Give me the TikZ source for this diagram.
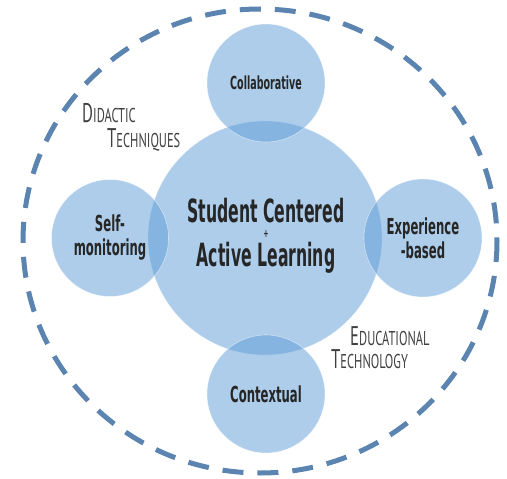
\documentclass[tikz,border=0pt]{standalone}
\usepackage{fontspec}
\newfontfamily\agency[FakeStretch=0.53]{DejaVu Sans}
\newfontfamily\agencyc[FakeStretch=0.49]{DejaVu Sans}
\newfontfamily\thinfont[FakeStretch=0.62]{PT Sans}
\definecolor{dashblue}{HTML}{5B84B1}
\definecolor{bubblue}{HTML}{5B9BD5}
\definecolor{txtdark}{HTML}{262626}
\definecolor{lblgrey}{HTML}{404040}
\tikzset{
  bub/.style={circle, fill=bubblue, fill opacity=0.5, draw=white, draw opacity=0.5,
    line width=0.6pt, text opacity=1, text=txtdark, align=center, inner sep=0pt},
  sattext/.style={font=\agency\bfseries\fontsize{22}{24}\selectfont},
  ctext/.style={anchor=base, inner sep=0pt, text=txtdark,
    font=\agencyc\bfseries\fontsize{32}{34}\selectfont},
  plustext/.style={inner sep=0pt, text=txtdark,
    font=\agency\bfseries\fontsize{11}{11}\selectfont},
  lbl/.style={anchor=base west, text=lblgrey, inner sep=0pt, font=\thinfont},
}
\newcommand{\bigc}[1]{{\fontsize{27}{27}\selectfont #1}}
\newcommand{\smc}[1]{{\fontsize{20}{20}\selectfont #1}}
\begin{document}
\begin{tikzpicture}[x=1pt,y=-1pt]
\useasboundingbox (0,0) rectangle (507,479);
\draw[dashblue, line width=5pt, dash pattern=on 21pt off 14pt]
  (260,241) ellipse [x radius=237, y radius=232];
\node[bub, minimum size=234pt] (center) at (265,238) {};
\node[ctext] (line1) at (266,222) {Student Centered};
\node[plustext] (plus) at (266,234.5) {+};
\node[ctext] (line3) at (266,266) {Active Learning};
\node[bub, minimum size=118pt, font=\agency\bfseries\fontsize{18}{19}\selectfont] (top) at (266,83) {Collaborative};
\node[bub, minimum size=117pt, sattext] (left) at (110,238) {Self-\\monitoring};
\node[bub, minimum size=118pt, sattext] (right) at (423,238) {Experience\\-based};
\node[bub, minimum size=118pt, sattext] (bottom) at (266,394) {Contextual};
\node[lbl] (did) at (82,122) {\bigc{D}\smc{IDACTIC}};
\node[lbl] (tech) at (107,147) {\bigc{T}\smc{ECHNIQUES}};
\node[lbl] (edu) at (350,345) {\bigc{E}\smc{DUCATIONAL}};
\node[lbl] (techno) at (331,368) {\bigc{T}\smc{ECHNOLOGY}};
\end{tikzpicture}
\end{document}
